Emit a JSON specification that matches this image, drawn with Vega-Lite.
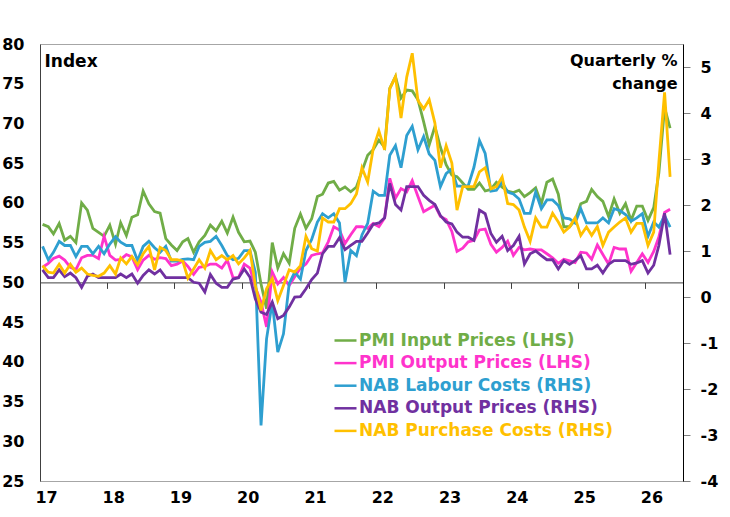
{
  "$schema": "https://vega.github.io/schema/vega-lite/v6.json",
  "width": 643,
  "height": 437,
  "autosize": {"type": "none"},
  "padding": {"left": 40, "top": 44, "right": 47, "bottom": 36},
  "background": "white",
  "config": {
    "view": {"stroke": "#a6a6a6", "strokeWidth": 1},
    "font": "DejaVu Sans",
    "axis": {
      "grid": false,
      "labelFont": "DejaVu Sans",
      "labelFontWeight": "bold",
      "labelFontSize": 16,
      "labelColor": "black",
      "titleFont": "DejaVu Sans",
      "titleFontWeight": "bold",
      "titleColor": "black"
    }
  },
  "data": {
    "values": [
      {"d": "2017-01-15", "gi": 57.3, "po": 51.9, "lc": 1.10, "no": 0.59, "pc": 0.68},
      {"d": "2017-02-15", "gi": 57.0, "po": 52.4, "lc": 0.81, "no": 0.42, "pc": 0.54},
      {"d": "2017-03-15", "gi": 56.1, "po": 53.0, "lc": 0.97, "no": 0.42, "pc": 0.52},
      {"d": "2017-04-15", "gi": 57.4, "po": 53.3, "lc": 1.21, "no": 0.59, "pc": 0.71},
      {"d": "2017-05-15", "gi": 55.3, "po": 52.8, "lc": 1.12, "no": 0.44, "pc": 0.52},
      {"d": "2017-06-15", "gi": 55.8, "po": 51.9, "lc": 1.12, "no": 0.52, "pc": 0.71},
      {"d": "2017-07-15", "gi": 55.0, "po": 51.6, "lc": 0.88, "no": 0.42, "pc": 0.54},
      {"d": "2017-08-15", "gi": 60.0, "po": 53.1, "lc": 1.10, "no": 0.21, "pc": 0.63},
      {"d": "2017-09-15", "gi": 59.1, "po": 53.4, "lc": 1.10, "no": 0.45, "pc": 0.50},
      {"d": "2017-10-15", "gi": 56.8, "po": 53.4, "lc": 0.94, "no": 0.50, "pc": 0.47},
      {"d": "2017-11-15", "gi": 56.3, "po": 53.0, "lc": 1.10, "no": 0.42, "pc": 0.45},
      {"d": "2017-12-15", "gi": 55.8, "po": 55.8, "lc": 0.94, "no": 0.42, "pc": 0.52},
      {"d": "2018-01-15", "gi": 57.2, "po": 53.4, "lc": 1.15, "no": 0.42, "pc": 0.68},
      {"d": "2018-02-15", "gi": 54.8, "po": 52.8, "lc": 1.31, "no": 0.42, "pc": 0.50},
      {"d": "2018-03-15", "gi": 57.5, "po": 52.9, "lc": 1.19, "no": 0.50, "pc": 0.85},
      {"d": "2018-04-15", "gi": 55.9, "po": 53.5, "lc": 1.12, "no": 0.42, "pc": 0.72},
      {"d": "2018-05-15", "gi": 58.2, "po": 53.2, "lc": 1.12, "no": 0.50, "pc": 0.88},
      {"d": "2018-06-15", "gi": 58.5, "po": 51.6, "lc": 0.79, "no": 0.30, "pc": 0.70},
      {"d": "2018-07-15", "gi": 61.5, "po": 52.8, "lc": 1.10, "no": 0.47, "pc": 0.94},
      {"d": "2018-08-15", "gi": 59.9, "po": 53.4, "lc": 1.21, "no": 0.59, "pc": 1.10},
      {"d": "2018-09-15", "gi": 58.9, "po": 52.9, "lc": 1.07, "no": 0.50, "pc": 0.59},
      {"d": "2018-10-15", "gi": 58.7, "po": 53.1, "lc": 0.97, "no": 0.59, "pc": 1.08},
      {"d": "2018-11-15", "gi": 55.5, "po": 53.0, "lc": 1.10, "no": 0.42, "pc": 1.01},
      {"d": "2018-12-15", "gi": 54.7, "po": 52.1, "lc": 0.78, "no": 0.42, "pc": 0.81},
      {"d": "2019-01-15", "gi": 54.0, "po": 52.3, "lc": 0.78, "no": 0.42, "pc": 0.81},
      {"d": "2019-02-15", "gi": 55.1, "po": 52.7, "lc": 0.82, "no": 0.42, "pc": 0.78},
      {"d": "2019-03-15", "gi": 55.5, "po": 52.0, "lc": 0.83, "no": 0.42, "pc": 0.41},
      {"d": "2019-04-15", "gi": 53.8, "po": 51.0, "lc": 0.81, "no": 0.32, "pc": 0.61},
      {"d": "2019-05-15", "gi": 55.1, "po": 51.9, "lc": 1.10, "no": 0.30, "pc": 0.81},
      {"d": "2019-06-15", "gi": 55.9, "po": 52.0, "lc": 1.19, "no": 0.11, "pc": 0.63},
      {"d": "2019-07-15", "gi": 57.2, "po": 52.3, "lc": 1.21, "no": 0.49, "pc": 1.01},
      {"d": "2019-08-15", "gi": 56.5, "po": 52.3, "lc": 1.32, "no": 0.30, "pc": 0.81},
      {"d": "2019-09-15", "gi": 57.7, "po": 51.8, "lc": 1.12, "no": 0.21, "pc": 0.90},
      {"d": "2019-10-15", "gi": 56.2, "po": 52.8, "lc": 0.90, "no": 0.21, "pc": 0.81},
      {"d": "2019-11-15", "gi": 58.2, "po": 50.6, "lc": 0.81, "no": 0.39, "pc": 0.90},
      {"d": "2019-12-15", "gi": 56.3, "po": 50.6, "lc": 0.84, "no": 0.42, "pc": 0.72},
      {"d": "2020-01-15", "gi": 55.1, "po": 52.3, "lc": 1.01, "no": 0.61, "pc": 0.85},
      {"d": "2020-02-15", "gi": 55.2, "po": 51.8, "lc": 1.01, "no": 0.43, "pc": 1.01},
      {"d": "2020-03-15", "gi": 53.8, "po": 49.4, "lc": 0.54, "no": -0.04, "pc": 0.26},
      {"d": "2020-04-15", "gi": 49.8, "po": 47.5, "lc": -2.79, "no": -0.33, "pc": -0.29},
      {"d": "2020-05-15", "gi": 46.7, "po": 44.4, "lc": -0.91, "no": -0.38, "pc": 0.18},
      {"d": "2020-06-15", "gi": 55.0, "po": 51.3, "lc": -0.11, "no": -0.11, "pc": 0.40},
      {"d": "2020-07-15", "gi": 51.8, "po": 49.8, "lc": -1.20, "no": -0.47, "pc": -0.08},
      {"d": "2020-08-15", "gi": 53.6, "po": 50.6, "lc": -0.80, "no": -0.40, "pc": 0.25},
      {"d": "2020-09-15", "gi": 52.4, "po": 49.6, "lc": 0.29, "no": -0.22, "pc": 0.59},
      {"d": "2020-10-15", "gi": 56.8, "po": 50.7, "lc": 0.54, "no": 0.00, "pc": 0.54},
      {"d": "2020-11-15", "gi": 58.6, "po": 51.8, "lc": 0.39, "no": 0.01, "pc": 0.68},
      {"d": "2020-12-15", "gi": 56.8, "po": 52.3, "lc": 1.01, "no": 0.18, "pc": 1.32},
      {"d": "2021-01-15", "gi": 58.0, "po": 53.4, "lc": 1.25, "no": 0.38, "pc": 1.05},
      {"d": "2021-02-15", "gi": 60.8, "po": 53.6, "lc": 1.63, "no": 0.52, "pc": 1.00},
      {"d": "2021-03-15", "gi": 61.1, "po": 53.7, "lc": 1.81, "no": 0.94, "pc": 1.72},
      {"d": "2021-04-15", "gi": 62.5, "po": 55.1, "lc": 1.72, "no": 1.10, "pc": 1.63},
      {"d": "2021-05-15", "gi": 62.7, "po": 57.0, "lc": 1.81, "no": 1.10, "pc": 1.63},
      {"d": "2021-06-15", "gi": 61.6, "po": 56.6, "lc": 1.61, "no": 1.29, "pc": 1.92},
      {"d": "2021-07-15", "gi": 62.0, "po": 54.9, "lc": 0.32, "no": 1.03, "pc": 1.92},
      {"d": "2021-08-15", "gi": 61.4, "po": 56.0, "lc": 1.01, "no": 1.12, "pc": 2.03},
      {"d": "2021-09-15", "gi": 62.0, "po": 57.0, "lc": 0.90, "no": 1.21, "pc": 2.24},
      {"d": "2021-10-15", "gi": 64.0, "po": 57.0, "lc": 1.35, "no": 1.21, "pc": 2.81},
      {"d": "2021-11-15", "gi": 66.0, "po": 56.8, "lc": 1.60, "no": 1.39, "pc": 2.50},
      {"d": "2021-12-15", "gi": 66.7, "po": 57.4, "lc": 2.30, "no": 1.58, "pc": 3.22},
      {"d": "2022-01-15", "gi": 67.9, "po": 57.0, "lc": 2.21, "no": 1.61, "pc": 3.61},
      {"d": "2022-02-15", "gi": 67.0, "po": 58.1, "lc": 2.21, "no": 1.72, "pc": 3.20},
      {"d": "2022-03-15", "gi": 74.4, "po": 63.1, "lc": 3.08, "no": 2.47, "pc": 4.53},
      {"d": "2022-04-15", "gi": 75.9, "po": 60.6, "lc": 3.29, "no": 2.01, "pc": 4.79},
      {"d": "2022-05-15", "gi": 73.2, "po": 61.8, "lc": 2.81, "no": 1.89, "pc": 3.89},
      {"d": "2022-06-15", "gi": 74.2, "po": 61.4, "lc": 3.51, "no": 2.40, "pc": 4.78},
      {"d": "2022-07-15", "gi": 74.1, "po": 62.8, "lc": 3.71, "no": 2.40, "pc": 5.30},
      {"d": "2022-08-15", "gi": 73.0, "po": 60.8, "lc": 3.20, "no": 2.40, "pc": 4.27},
      {"d": "2022-09-15", "gi": 70.2, "po": 58.9, "lc": 3.49, "no": 2.21, "pc": 4.09},
      {"d": "2022-10-15", "gi": 67.3, "po": 59.3, "lc": 3.11, "no": 2.10, "pc": 4.29},
      {"d": "2022-11-15", "gi": 69.6, "po": 59.7, "lc": 2.97, "no": 2.01, "pc": 3.78},
      {"d": "2022-12-15", "gi": 67.0, "po": 58.3, "lc": 2.40, "no": 1.77, "pc": 2.81},
      {"d": "2023-01-15", "gi": 64.8, "po": 57.9, "lc": 2.68, "no": 1.63, "pc": 3.29},
      {"d": "2023-02-15", "gi": 63.5, "po": 56.4, "lc": 2.79, "no": 1.59, "pc": 2.91},
      {"d": "2023-03-15", "gi": 63.3, "po": 53.9, "lc": 2.41, "no": 1.41, "pc": 1.89},
      {"d": "2023-04-15", "gi": 62.5, "po": 54.3, "lc": 2.41, "no": 1.30, "pc": 2.40},
      {"d": "2023-05-15", "gi": 61.7, "po": 55.1, "lc": 2.42, "no": 1.30, "pc": 2.40},
      {"d": "2023-06-15", "gi": 61.7, "po": 55.3, "lc": 2.82, "no": 1.23, "pc": 2.40},
      {"d": "2023-07-15", "gi": 62.5, "po": 56.6, "lc": 3.40, "no": 1.89, "pc": 2.72},
      {"d": "2023-08-15", "gi": 61.5, "po": 56.7, "lc": 3.12, "no": 1.81, "pc": 2.81},
      {"d": "2023-09-15", "gi": 61.7, "po": 54.8, "lc": 2.30, "no": 1.38, "pc": 2.35},
      {"d": "2023-10-15", "gi": 62.6, "po": 53.8, "lc": 2.32, "no": 1.19, "pc": 2.40},
      {"d": "2023-11-15", "gi": 62.0, "po": 54.4, "lc": 2.50, "no": 1.32, "pc": 2.61},
      {"d": "2023-12-15", "gi": 61.5, "po": 55.2, "lc": 2.28, "no": 1.01, "pc": 2.03},
      {"d": "2024-01-15", "gi": 61.3, "po": 53.4, "lc": 2.24, "no": 1.12, "pc": 2.01},
      {"d": "2024-02-15", "gi": 61.6, "po": 54.4, "lc": 2.13, "no": 1.32, "pc": 1.89},
      {"d": "2024-03-15", "gi": 60.8, "po": 54.1, "lc": 1.82, "no": 0.72, "pc": 1.52},
      {"d": "2024-04-15", "gi": 61.3, "po": 54.2, "lc": 1.82, "no": 0.94, "pc": 1.21},
      {"d": "2024-05-15", "gi": 61.9, "po": 54.1, "lc": 2.28, "no": 1.00, "pc": 1.72},
      {"d": "2024-06-15", "gi": 59.9, "po": 54.1, "lc": 1.92, "no": 0.90, "pc": 1.52},
      {"d": "2024-07-15", "gi": 62.6, "po": 53.6, "lc": 2.11, "no": 0.81, "pc": 1.52},
      {"d": "2024-08-15", "gi": 63.0, "po": 53.1, "lc": 2.11, "no": 0.81, "pc": 1.82},
      {"d": "2024-09-15", "gi": 61.1, "po": 52.4, "lc": 1.99, "no": 0.61, "pc": 1.63},
      {"d": "2024-10-15", "gi": 57.0, "po": 52.9, "lc": 1.72, "no": 0.79, "pc": 1.41},
      {"d": "2024-11-15", "gi": 57.0, "po": 52.7, "lc": 1.70, "no": 0.71, "pc": 1.52},
      {"d": "2024-12-15", "gi": 57.8, "po": 52.5, "lc": 1.61, "no": 0.79, "pc": 1.72},
      {"d": "2025-01-15", "gi": 59.9, "po": 53.8, "lc": 1.92, "no": 0.90, "pc": 1.34},
      {"d": "2025-02-15", "gi": 60.2, "po": 53.7, "lc": 1.61, "no": 0.61, "pc": 1.52},
      {"d": "2025-03-15", "gi": 61.7, "po": 52.9, "lc": 1.61, "no": 0.61, "pc": 1.34},
      {"d": "2025-04-15", "gi": 60.8, "po": 54.7, "lc": 1.61, "no": 0.69, "pc": 1.53},
      {"d": "2025-05-15", "gi": 60.2, "po": 53.5, "lc": 1.72, "no": 0.52, "pc": 1.12},
      {"d": "2025-06-15", "gi": 58.3, "po": 52.3, "lc": 1.61, "no": 0.71, "pc": 1.41},
      {"d": "2025-07-15", "gi": 60.5, "po": 54.4, "lc": 1.92, "no": 0.79, "pc": 1.52},
      {"d": "2025-08-15", "gi": 58.7, "po": 54.2, "lc": 1.88, "no": 0.79, "pc": 1.63},
      {"d": "2025-09-15", "gi": 59.9, "po": 54.2, "lc": 1.79, "no": 0.79, "pc": 1.72},
      {"d": "2025-10-15", "gi": 57.8, "po": 51.4, "lc": 1.65, "no": 0.71, "pc": 1.41},
      {"d": "2025-11-15", "gi": 59.6, "po": 52.5, "lc": 1.72, "no": 0.74, "pc": 1.60},
      {"d": "2025-12-15", "gi": 59.6, "po": 53.6, "lc": 1.81, "no": 0.79, "pc": 1.60},
      {"d": "2026-01-15", "gi": 57.8, "po": 52.5, "lc": 1.32, "no": 0.52, "pc": 1.12},
      {"d": "2026-02-15", "gi": 59.4, "po": 53.9, "lc": 1.63, "no": 0.69, "pc": 1.41},
      {"d": "2026-03-15", "gi": 63.8, "po": 55.7, "lc": 1.52, "no": 1.12, "pc": 2.93},
      {"d": "2026-04-15", "gi": 72.0, "po": 58.8, "lc": 1.77, "no": 1.82, "pc": 4.45},
      {"d": "2026-05-15", "gi": 69.4, "po": 59.2, "lc": 1.52, "no": 0.92, "pc": 2.61}
    ]
  },
  "transform": [{"fold": ["gi", "po", "lc", "no", "pc"], "as": ["s", "v"]}],
  "layer": [
    {
      "transform": [{"filter": "datum.s == 'gi' || datum.s == 'po'"}],
      "mark": {"type": "line", "strokeWidth": 2.8},
      "encoding": {
        "x": {
          "field": "d",
          "type": "temporal",
          "scale": {
            "type": "utc",
            "domain": [
              {"year": 2017, "month": 1, "date": 1, "utc": true},
              {"year": 2026, "month": 7, "date": 24, "utc": true}
            ]
          },
          "axis": {
            "orient": "bottom",
            "title": null,
            "values": [
              {"year": 2017, "utc": true}, {"year": 2018, "utc": true}, {"year": 2019, "utc": true},
              {"year": 2020, "utc": true}, {"year": 2021, "utc": true}, {"year": 2022, "utc": true},
              {"year": 2023, "utc": true}, {"year": 2024, "utc": true}, {"year": 2025, "utc": true},
              {"year": 2026, "utc": true}
            ],
            "format": "%y",
            "tickSize": 0,
            "labelPadding": 8,
            "labelOffset": 6,
            "labelFlush": false,
            "labelOverlap": false,
            "domainColor": "#a6a6a6"
          }
        },
        "y": {
          "field": "v",
          "type": "quantitative",
          "scale": {"domain": [25, 80], "nice": false, "zero": false},
          "axis": {
            "orient": "left",
            "values": [25, 30, 35, 40, 45, 50, 55, 60, 65, 70, 75, 80],
            "tickSize": 0,
            "labelPadding": 16,
            "domainColor": "#404040",
            "title": "Index",
            "titleAngle": 0,
            "titleAlign": "left",
            "titleBaseline": "alphabetic",
            "titleX": 4,
            "titleY": 22,
            "titleFontSize": 17
          }
        },
        "color": {
          "field": "s",
          "type": "nominal",
          "scale": {
            "domain": ["gi", "po", "lc", "no", "pc"],
            "range": ["#70AD47", "#FF33CC", "#2E9FD0", "#7030A0", "#FFC000"]
          },
          "legend": {
            "orient": "none",
            "legendX": 293,
            "legendY": 284,
            "title": null,
            "symbolType": "stroke",
            "symbolSize": 484,
            "symbolStrokeWidth": 2.5,
            "labelFont": "DejaVu Sans",
            "labelFontWeight": "bold",
            "labelFontSize": 17,
            "labelOffset": 1,
            "labelLimit": 400,
            "rowPadding": 1.6,
            "labelExpr": "datum.label == 'gi' ? 'PMI Input Prices (LHS)' : datum.label == 'po' ? 'PMI Output Prices (LHS)' : datum.label == 'lc' ? 'NAB Labour Costs (RHS)' : datum.label == 'no' ? 'NAB Output Prices (RHS)' : 'NAB Purchase Costs (RHS)'",
            "labelColor": {"expr": "scale('color', datum.value)"}
          }
        }
      }
    },
    {
      "transform": [{"filter": "datum.s != 'gi' && datum.s != 'po'"}],
      "mark": {"type": "line", "strokeWidth": 2.8},
      "encoding": {
        "x": {
          "field": "d",
          "type": "temporal",
          "scale": {
            "type": "utc",
            "domain": [
              {"year": 2017, "month": 1, "date": 1, "utc": true},
              {"year": 2026, "month": 7, "date": 24, "utc": true}
            ]
          },
          "axis": {
            "orient": "bottom",
            "offset": -198.6,
            "title": null,
            "labels": false,
            "values": [
              {"year": 2018, "utc": true}, {"year": 2019, "utc": true}, {"year": 2020, "utc": true},
              {"year": 2021, "utc": true}, {"year": 2022, "utc": true}, {"year": 2023, "utc": true},
              {"year": 2024, "utc": true}, {"year": 2025, "utc": true}, {"year": 2026, "utc": true}
            ],
            "tickSize": 6,
            "tickColor": "#404040",
            "domainColor": "#404040"
          }
        },
        "y": {
          "field": "v",
          "type": "quantitative",
          "scale": {"domain": [-4, 5.5], "nice": false, "zero": false},
          "axis": {
            "orient": "right",
            "values": [-4, -3, -2, -1, 0, 1, 2, 3, 4, 5],
            "labelExpr": "datum.value < 0 ? '-' + abs(datum.value) : '' + datum.value",
            "tickSize": 7,
            "tickColor": "#808080",
            "labelPadding": 10,
            "domainColor": "black",
            "title": ["Quarterly %", "change"],
            "titleAngle": 0,
            "titleAlign": "right",
            "titleBaseline": "alphabetic",
            "titleX": -6,
            "titleY": 21,
            "titleLineHeight": 23,
            "titleFontSize": 16
          }
        },
        "color": {"field": "s", "type": "nominal"}
      }
    }
  ],
  "resolve": {"scale": {"y": "independent"}, "axis": {"x": "independent"}}
}
